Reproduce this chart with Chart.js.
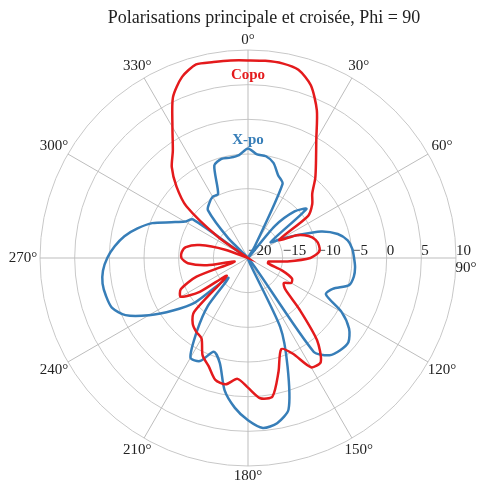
<!DOCTYPE html>
<html>
<head>
<meta charset="utf-8">
<script src="https://cdn.jsdelivr.net/npm/chart.js@4.4.1/dist/chart.umd.min.js"></script>
<style>
  body { margin: 0; background: #fff; }
  canvas { display: block; }
</style>
</head>
<body>
<canvas id="polar-chart" width="480" height="484"></canvas>
<script>
// angle of each sample, degrees clockwise from the top
const angles = [0, 5, 10, 15, 20, 25, 30, 35, 40, 45, 50, 55,
  60, 65, 70, 75, 80, 85, 90, 95, 100, 105, 110, 115,
  120, 125, 130, 135, 140, 145, 150, 155, 160, 165, 170, 175,
  180, 185, 190, 195, 200, 205, 210, 215, 220, 225, 230, 235,
  240, 245, 250, 255, 260, 265, 270, 275, 280, 285, 290, 295,
  300, 305, 310, 315, 320, 325, 330, 335, 340, 345, 350, 355];

// principal polarisation (dB)
const copo = [8.5, 8.55, 8.5, 8.1, 6.5, 3.5, -0.3, -2.9, -4.9, -6.9, -7.9, -9.4,
  -14.8, -12.2, -10.7, -9.9, -9.6, -9.7, -11.0, -14.3, -17.0, -17.0, -14.8, -13.0,
  -12.8, -13.7, -13.0, -9.5, -4.5, -1.7, -1.8, -4.8, -6.0, -3.0, 0.3, 0.3,
  -1.3, -2.5, -1.5, -1.8, -3.4, -4.5, -6.6, -7.0, -7.6, -9.0, -16.0, -11.5,
  -8.8, -9.3, -12.1, -18.0, -14.0, -11.3, -10.4, -10.4, -10.9, -12.8, -16.5, -20.0,
  -20.0, -14.8, -8.4, -5.4, -2.9, -1.1, 1.8, 5.6, 7.8, 8.9, 8.7, 8.6];

// cross polarisation (dB)
const xpo = [-4.2, -5.0, -5.1, -5.8, -7.3, -8.2, -18.0, -20.0, -14.0, -10.5, -9.0, -16.0,
  -14.5, -12.2, -8.8, -6.6, -5.4, -4.9, -4.7, -4.5, -4.5, -4.9, -7.0, -7.6,
  -4.4, -2.2, -1.1, -1.2, -1.7, -3.5, -20.0, -9.0, -3.3, 2.6, 4.2, 4.6,
  3.4, 1.7, -0.6, -4.3, -5.6, -3.6, -3.4, -7.2, -11.0, -16.0, -10.0, -6.8,
  -3.5, -0.5, 0.9, 1.2, 1.3, 1.0, 0.3, -0.7, -1.9, -3.5, -5.3, -7.8,
  -9.5, -10.3, -20.0, -16.0, -11.0, -10.3, -9.8, -9.8, -5.8, -5.2, -5.3, -5.1];

const rTicks = [-20, -15, -10, -5, 0, 5, 10];
const angleTicks = [0, 30, 60, 90, 120, 150, 180, 210, 240, 270, 300, 330];

const seriesNames = ["Copo", "X-po"];
const seriesColors = ["#e41a1c", "#377eb8"];
// where the series names sit: angle and radial value
const nameAngle = [0, 0];
const nameValue = [6.4, -2.95];

const chartTitle = "Polarisations principale et croisée, Phi = 90";
const serif = '"Liberation Serif", "Times New Roman", serif';

const polarText = {
  id: 'polarText',
  beforeDatasetsDraw(chart) {
    const s = chart.scales.r;
    const ctx = chart.ctx;
    ctx.save();
    ctx.fillStyle = '#222';
    ctx.font = '15px ' + serif;
    // radial tick labels along the 90 degree axis
    ctx.textAlign = 'left';
    ctx.textBaseline = 'alphabetic';
    rTicks.forEach(v => {
      const d = s.getDistanceFromCenterForValue(v);
      ctx.fillText(String(v).replace('-', '\u2212'), s.xCenter + d, s.yCenter - 3);
    });
    // angle labels
    ctx.textAlign = 'center';
    ctx.textBaseline = 'middle';
    angleTicks.forEach(a => {
      const i = angles.indexOf(a);
      const sn = Math.abs(Math.sin(a * Math.PI / 180));
      let p = s.getPointPosition(i, s.drawingArea + 10 + 7 * sn);
      let x = p.x, y = p.y;
      if (a === 90) { p = s.getPointPosition(i, s.drawingArea + 10); x = p.x; y = p.y + 10; }
      ctx.fillText(a + '°', x, y);
    });
    ctx.restore();
  },
  afterDraw(chart) {
    const s = chart.scales.r;
    const ctx = chart.ctx;
    ctx.save();
    ctx.textAlign = 'center';
    ctx.textBaseline = 'middle';
    ctx.fillStyle = '#222';
    ctx.font = '18px ' + serif;
    ctx.fillText(chartTitle, 264, 18);
    ctx.font = 'bold 15px ' + serif;
    seriesNames.forEach((n, k) => {
      const p = s.getPointPosition(angles.indexOf(nameAngle[k]), s.getDistanceFromCenterForValue(nameValue[k]));
      ctx.fillStyle = seriesColors[k];
      ctx.fillText(n, p.x, p.y);
    });
    ctx.restore();
  }
};

new Chart(document.getElementById("polar-chart"), {
  type: 'radar',
  data: {
    labels: angles,
    datasets: [{
      label: seriesNames[0],
      data: copo,
      borderColor: seriesColors[0],
      borderWidth: 2.5,
      pointRadius: 0,
      fill: false,
      tension: 0.25
    }, {
      label: seriesNames[1],
      data: xpo,
      borderColor: seriesColors[1],
      borderWidth: 2.5,
      pointRadius: 0,
      fill: false,
      tension: 0.25
    }]
  },
  options: {
    responsive: false,
    animation: false,
    layout: {
      padding: { left: 40, right: 23, top: 49, bottom: 17 }
    },
    plugins: {
      legend: { display: false },
      tooltip: { enabled: false },
      title: { display: false }
    },
    scales: {
      r: {
        min: -20,
        max: 10,
        ticks: { display: false, stepSize: 5 },
        pointLabels: { display: false },
        grid: { circular: true, color: '#c8c8c8', lineWidth: 1 },
        angleLines: {
          color: '#bdbdbd',
          lineWidth: ctx => (angles[ctx.index] % 30 === 0 ? 1 : 0)
        }
      }
    }
  },
  plugins: [polarText]
});
</script>
</body>
</html>
